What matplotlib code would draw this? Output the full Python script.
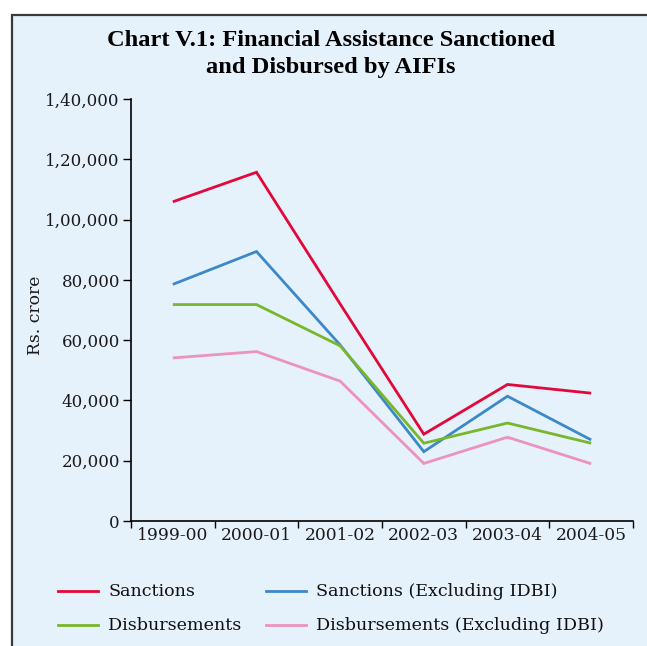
import matplotlib
matplotlib.use("Agg")
import matplotlib.pyplot as plt
from matplotlib.patches import Rectangle
from matplotlib.lines import Line2D
import numpy as np

years = ["1999-00", "2000-01", "2001-02", "2002-03", "2003-04", "2004-05"]
sanctions = [105900, 115700, 72000, 28800, 45300, 42400]
sanctions_ex_idbi = [78500, 89400, 58400, 23000, 41400, 26900]
disbursements = [71800, 71800, 58100, 25800, 32500, 25800]
disbursements_ex_idbi = [54100, 56200, 46400, 19100, 27800, 19000]
yticks = [0, 20000, 40000, 60000, 80000, 100000, 120000, 140000]
ytick_labels = ["0", "20,000", "40,000", "60,000", "80,000", "1,00,000", "1,20,000", "1,40,000"]

series = [
    ("Sanctions", sanctions, "#E2083A"),
    ("Sanctions (Excluding IDBI)", sanctions_ex_idbi, "#3C88C8"),
    ("Disbursements", disbursements, "#78B72A"),
    ("Disbursements (Excluding IDBI)", disbursements_ex_idbi, "#EC93BA"),
]

W, H = 647, 646
fig = plt.figure(figsize=(W / 100, H / 100), dpi=100, facecolor="white")

bg = "#E5F1FB"
fig.patches.append(Rectangle((12 / W, -0.1), 1.2, (H - 15) / H + 0.1,
                             transform=fig.transFigure, facecolor=bg,
                             edgecolor="#3a3a3a", linewidth=1.6, zorder=-10))

serif = ["DejaVu Serif"]
title_font = ["Liberation Serif"]

fig.text(331 / W, 1 - 41 / H, "Chart V.1: Financial Assistance Sanctioned",
         ha="center", va="center", fontsize=17.6, fontweight="bold", family=title_font)
fig.text(331 / W, 1 - 67 / H, "and Disbursed by AIFIs",
         ha="center", va="center", fontsize=17.6, fontweight="bold", family=title_font)

left, right, bottom, top = 131, 633, 521, 99
ax = fig.add_axes([left / W, 1 - bottom / H, (right - left) / W, (bottom - top) / H])
ax.set_facecolor("none")
ax.set_zorder(5)

x = np.arange(len(years))
for name, vals, col in series:
    ax.plot(x, vals, color=col, linewidth=2.0, solid_capstyle="butt", solid_joinstyle="miter")

ax.set_xlim(-0.5, len(years) - 0.5)
ax.set_ylim(0, 140000)
ax.set_yticks(yticks)
ax.set_yticklabels(ytick_labels, family=serif, fontsize=12, color="#1a1a1a")
ax.set_xticks(np.arange(len(years) + 1) - 0.5)
ax.set_xticklabels([""] * (len(years) + 1))
ax.set_xticks(x, minor=True)
ax.set_xticklabels(years, minor=True, family=serif, fontsize=12.3, color="#1a1a1a")
ax.tick_params(axis="x", which="minor", length=0, pad=4)
ax.tick_params(axis="x", which="major", length=5, width=1.0, direction="out")
ax.tick_params(axis="y", length=6, width=1.0, direction="out", pad=2)
for s in ["top", "right"]:
    ax.spines[s].set_visible(False)
for s in ["left", "bottom"]:
    ax.spines[s].set_linewidth(1.2)
    ax.spines[s].set_color("black")

fig.text(35 / W, 1 - 315 / H, "Rs. crore", rotation=90, ha="center", va="center",
         family=serif, fontsize=12.3, color="#1a1a1a")

# legend
legend_pos = [(58, 591), (266, 591), (58, 625), (266, 625)]
for (name, vals, col), (lx, ly) in zip(series, legend_pos):
    fig.lines.append(Line2D([lx / W, (lx + 40) / W], [1 - ly / H, 1 - ly / H],
                            transform=fig.transFigure, color=col, linewidth=2.0))
    fig.text((lx + 50) / W, 1 - ly / H, name, ha="left", va="center",
             family=serif, fontsize=12.6, color="#111111")

fig.savefig("out.png", dpi=100, facecolor=fig.get_facecolor())
